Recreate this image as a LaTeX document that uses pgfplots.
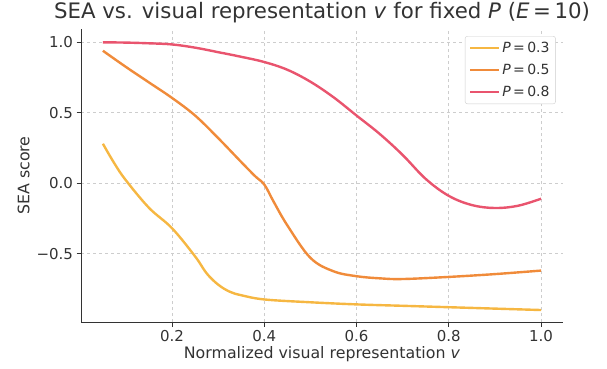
\documentclass[border=0pt]{standalone}
\usepackage{pgfplots}
\pgfplotsset{compat=1.18}
\usepackage{fontspec}
\setmainfont{DejaVu Sans}
\definecolor{cY}{RGB}{246,183,66}
\definecolor{cO}{RGB}{240,139,58}
\definecolor{cR}{RGB}{233,84,110}
\definecolor{txt}{RGB}{51,51,51}
\definecolor{gridc}{RGB}{205,205,205}
\begin{document}
\begin{tikzpicture}
\useasboundingbox (0pt,0pt) rectangle (607pt,368pt);
\begin{axis}[
  at={(81pt,46pt)}, anchor=south west,
  scale only axis, width=482pt, height=293pt,
  xmin=0.0025, xmax=1.0475, ymin=-0.985, ymax=1.0945,
  axis x line*=bottom, axis y line*=left,
  x axis line style={-}, y axis line style={-},
  axis line style={txt, line width=1pt},
  tick align=outside, major tick length=4.5pt,
  tick style={txt, line width=0.9pt},
  xtick={0.2,0.4,0.6,0.8,1.0}, xticklabels={0.2,0.4,0.6,0.8,1.0},
  ytick={-0.5,0,0.5,1.0}, yticklabels={−0.5,0.0,0.5,1.0},
  ticklabel style={font=\fontsize{15}{17}\selectfont, text=txt},
  grid=major, grid style={gridc, dashed, line width=0.7pt},
  title={SEA vs. visual representation \textit{v} for fixed \textit{P} (\textit{E}\,=\,10)},
  title style={at={(0.5,1)}, anchor=base, yshift=5pt, font=\fontsize{21.3}{24}\selectfont, text=txt},
  xlabel={Normalized visual representation \textit{v}},
  ylabel={SEA score},
  label style={font=\fontsize{15.8}{18}\selectfont, text=txt},
  xlabel style={yshift=2pt},
  legend style={at={(0.985,0.976)}, anchor=north east, draw=gridc, rounded corners=2.5pt,
    font=\fontsize{14}{16}\selectfont, text=txt, fill=white, row sep=6pt, inner sep=4pt},
  legend cell align=left,
  legend image post style={line width=2.4pt},
  legend image code/.code={\draw[#1] (0pt,0pt) -- (29pt,0pt);},
]
\addplot[cY, line width=2.4pt, smooth, tension=0.6] coordinates {
(0.05,0.28)(0.075,0.14)(0.10,0.02)(0.15,-0.175)(0.20,-0.32)(0.25,-0.52)(0.275,-0.64)(0.30,-0.72)(0.325,-0.77)(0.35,-0.795)(0.40,-0.825)(0.50,-0.845)(0.60,-0.86)(0.70,-0.87)(0.80,-0.88)(0.90,-0.89)(1.0,-0.90)};
\addlegendentry{\textit{P}\,=\,0.3}
\addplot[cO, line width=2.4pt, smooth, tension=0.6] coordinates {
(0.05,0.94)(0.10,0.825)(0.15,0.715)(0.20,0.605)(0.25,0.48)(0.30,0.32)(0.35,0.15)(0.38,0.05)(0.40,-0.01)(0.42,-0.13)(0.45,-0.30)(0.50,-0.53)(0.55,-0.625)(0.60,-0.66)(0.65,-0.675)(0.70,-0.68)(0.80,-0.665)(0.90,-0.645)(1.0,-0.62)};
\addlegendentry{\textit{P}\,=\,0.5}
\addplot[cR, line width=2.4pt, smooth, tension=0.6] coordinates {
(0.05,1.0)(0.10,0.998)(0.15,0.993)(0.20,0.985)(0.25,0.962)(0.30,0.93)(0.35,0.897)(0.40,0.86)(0.45,0.805)(0.50,0.72)(0.55,0.61)(0.60,0.48)(0.65,0.35)(0.70,0.20)(0.75,0.03)(0.80,-0.09)(0.85,-0.155)(0.90,-0.176)(0.95,-0.16)(1.0,-0.11)};
\addlegendentry{\textit{P}\,=\,0.8}
\end{axis}
\end{tikzpicture}
\end{document}
